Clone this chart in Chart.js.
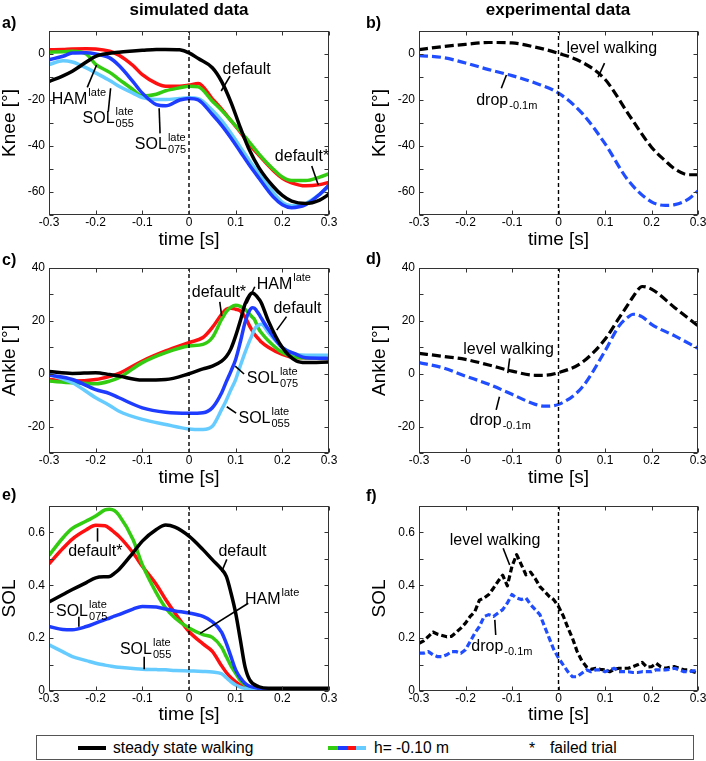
<!DOCTYPE html>
<html><head><meta charset="utf-8">
<script src="https://cdn.jsdelivr.net/npm/chart.js@4.4.0/dist/chart.umd.min.js"></script>
<style>
html,body{margin:0;padding:0;background:#fff;}
#page{position:relative;width:706px;height:761px;overflow:hidden;font-family:'Liberation Sans',Arial,sans-serif;color:#000;background:#fff;}
canvas{position:absolute;}
.t{position:absolute;white-space:nowrap;}
.b{font-weight:bold;}
.lg{font-size:15.6px;line-height:18px;top:739px;}
</style></head><body><div id="page">
<canvas id="ca" width="353" height="250" style="left:0;top:0"></canvas>
<canvas id="cb" width="353" height="250" style="left:353px;top:0"></canvas>
<canvas id="cc" width="353" height="240" style="left:0;top:250px"></canvas>
<canvas id="cd" width="353" height="240" style="left:353px;top:250px"></canvas>
<canvas id="ce" width="353" height="235" style="left:0;top:490px"></canvas>
<canvas id="cf" width="353" height="235" style="left:353px;top:490px"></canvas>

<div class="t b" style="left:89px;width:200px;text-align:center;top:1px;font-size:17px;line-height:17px">simulated data</div>
<div class="t b" style="left:458px;width:200px;text-align:center;top:1px;font-size:17px;line-height:17px">experimental data</div>
<div class="t b" style="left:2px;top:15px;font-size:16px;line-height:16px">a)</div>
<div class="t b" style="left:366px;top:15px;font-size:16px;line-height:16px">b)</div>
<div class="t b" style="left:2px;top:252px;font-size:16px;line-height:16px">c)</div>
<div class="t b" style="left:366px;top:251px;font-size:16px;line-height:16px">d)</div>
<div class="t b" style="left:2px;top:487px;font-size:16px;line-height:16px">e)</div>
<div class="t b" style="left:366px;top:488px;font-size:16px;line-height:16px">f)</div>

<div style="position:absolute;left:36px;top:735px;width:656px;height:23px;border:1px solid #555;"></div>
<div style="position:absolute;left:78px;top:746px;width:28px;height:4px;background:#000"></div>
<div class="t lg" style="left:113px">steady state walking</div>
<div style="position:absolute;left:328px;top:746px;width:10px;height:4px;background:#33cc11"></div>
<div style="position:absolute;left:338px;top:746px;width:10px;height:4px;background:#1e3cff"></div>
<div style="position:absolute;left:348px;top:746px;width:8px;height:4px;background:#ff1010"></div>
<div style="position:absolute;left:356px;top:746px;width:10px;height:4px;background:#66ccff"></div>
<div class="t lg" style="left:374px">h= -0.10 m</div>
<div class="t lg" style="left:529px;top:740px">*</div>
<div class="t lg" style="left:550px">failed trial</div>
</div>
<script>
// ---------- ticks ----------
const xTickVals = [-0.3,-0.2,-0.1,0,0.1,0.2,0.3];
const xTickLabels = ['-0.3','-0.2','-0.1','0','0.1','0.2','0.3'];
const xTickLabelsD = ['-0.3','-0','-0.1','0','0.1','0.2','0.3'];
const kneeTicks = [-70,-60,-50,-40,-30,-20,-10,0,10];
const kneeTickLabels = ['','-60','','-40','','-20','','0',''];
const ankleTicks = [-30,-20,-10,0,10,20,30,40];
const ankleTickLabels = ['','-20','','0','','20','','40'];
const solTicks = [0,0.1,0.2,0.3,0.4,0.5,0.6,0.7];
const solTickLabels = ['0','','0.2','','0.4','','0.6',''];

// ---------- a) simulated knee ----------
const tA = [-0.3,-0.27,-0.25,-0.22,-0.2,-0.17,-0.15,-0.12,-0.1,-0.07,-0.05,-0.02,0,0.02,0.05,0.07,0.09,0.11,0.13,0.15,0.18,0.2,0.22,0.25,0.28,0.3];
const kneeSimBlack = [-12,-9.5,-7.5,-3.5,-1,0.3,0.8,1.3,1.6,2,2,1.8,0.5,-2,-6,-12,-21,-32,-42,-49.5,-57.5,-61.5,-64,-65,-63.5,-61];
const kneeSimRed   = [1.8,2,2.2,2.3,2.2,1.2,-0.5,-5,-9,-12.8,-14,-14,-13.5,-12.8,-19.5,-24,-29,-34,-39.5,-44,-50.5,-54,-56,-57.3,-56.8,-55.8];
const kneeSimGreen = [0.8,1,1.2,0,-4.5,-8,-11,-15.5,-18.3,-17.5,-16,-14.7,-14,-14.3,-20.5,-24.5,-29,-33.5,-38.5,-43.5,-50,-53.5,-55,-55,-53.5,-52];
const kneeSimBlue  = [-2.5,-1,0.4,0.5,0,-1.7,-5,-12,-17,-22,-22.5,-20,-19.3,-20,-26.3,-31,-36.5,-42.5,-48.5,-54,-62,-65.5,-66.8,-65.5,-61,-57];
const kneeSimCyan  = [-4.6,-2.9,-3.5,-6,-8.2,-11.5,-14,-17,-19,-19.8,-19.8,-19.3,-19,-19.4,-24.5,-29,-34.5,-40.5,-46.5,-52,-60,-64.5,-66,-65,-61,-57.4];

// ---------- b) experimental knee ----------
const tB = [-0.3,-0.25,-0.2,-0.15,-0.1,-0.05,0,0.05,0.1,0.15,0.2,0.23,0.25,0.28,0.3];
const kneeExpLevel = [1.9,3.2,4.2,5,4.8,3,0.3,-3.5,-11,-26,-40.5,-46.5,-50,-52.5,-52.5];
const kneeExpDrop  = [-0.7,-1.5,-3.9,-6.8,-9.4,-12.6,-17,-25.6,-39,-55,-64.3,-65.8,-65.5,-63,-59.5];

// ---------- c) simulated ankle ----------
const tC = [-0.3,-0.25,-0.2,-0.17,-0.15,-0.1,-0.05,0,0.03,0.05,0.07,0.08,0.09,0.1,0.11,0.12,0.13,0.135,0.14,0.15,0.155,0.17,0.2,0.23,0.25,0.3];
const ankleSimBlack = [0.8,0.1,0.4,-0.3,-0.9,-2.4,-2.2,0,1.8,2.9,4.8,6.5,9.5,14.3,20,26.3,29.8,30.5,30.2,28.2,26.8,20,9.9,4.8,4.2,4.4];
const ankleSimRed   = [-2.2,-2.8,-2.2,-1,0.1,4.8,8.6,11.8,13.7,17.5,22.5,24.4,24.8,24.4,23.8,21.5,18,16.5,15,13,12,10,7.3,6,6,6];
const ankleSimGreen = [-2.8,-3.4,-3.8,-2.8,-1.5,4.2,8,10.5,11.1,13.7,20.6,23.5,25.2,25.9,25.5,24.4,22.5,21.5,20.6,16.8,15.5,12.5,8,6.2,6,6];
const ankleSimBlue  = [-0.5,-2.2,-6,-7.5,-9.1,-12.9,-14.6,-15,-14.8,-12.9,-7.2,-3,1,5.4,12,19.4,24,25,24.8,22.5,21,16.8,9.9,7.3,6,5.8];
const ankleSimCyan  = [-0.3,-3.4,-9.1,-12,-14.2,-17.3,-19.2,-20.9,-21.1,-19.9,-13.5,-10,-6,-2.2,3,8,12.5,14.5,16.8,18.5,18.7,15.6,9.9,7.3,7,7];

// ---------- d) experimental ankle ----------
const tD = [-0.3,-0.25,-0.2,-0.15,-0.1,-0.05,-0.03,0,0.05,0.1,0.13,0.15,0.16,0.18,0.2,0.25,0.3];
const ankleExpLevel = [7.7,6.6,5.4,3.3,1,-0.6,-0.6,0.4,4.2,13,21,26.3,29,33,32,25,18.1];
const ankleExpDrop  = [4.2,2.3,-0.9,-4,-7.8,-11.6,-12.3,-11.6,-5.3,8.6,18,21.5,22.5,21.5,18.7,14.3,9.6];

// ---------- e) simulated SOL ----------
const tE = [-0.3,-0.27,-0.25,-0.22,-0.2,-0.18,-0.17,-0.16,-0.15,-0.12,-0.1,-0.07,-0.05,-0.03,0,0.03,0.05,0.07,0.08,0.09,0.1,0.11,0.12,0.13,0.15,0.17,0.2,0.25,0.3];
const solSimBlack = [0.337,0.365,0.384,0.41,0.428,0.432,0.433,0.445,0.46,0.523,0.567,0.611,0.628,0.62,0.586,0.535,0.497,0.46,0.434,0.371,0.295,0.194,0.092,0.042,0.016,0.01,0.01,0.01,0.01];
const solSimRed   = [0.481,0.54,0.575,0.61,0.627,0.625,0.615,0.6,0.585,0.523,0.472,0.403,0.346,0.295,0.225,0.178,0.15,0.095,0.07,0.05,0.035,0.022,0.014,0.009,0.004,0.003,0.003,0.003,0.003];
const solSimGreen = [0.513,0.58,0.615,0.643,0.662,0.685,0.688,0.683,0.665,0.573,0.478,0.371,0.314,0.276,0.238,0.213,0.203,0.165,0.13,0.095,0.067,0.04,0.023,0.013,0.004,0.003,0.003,0.003,0.003];
const solSimBlue  = [0.244,0.233,0.232,0.244,0.257,0.27,0.276,0.283,0.289,0.31,0.32,0.318,0.31,0.303,0.295,0.282,0.262,0.222,0.18,0.13,0.08,0.05,0.029,0.018,0.01,0.006,0.005,0.005,0.005];
const solSimCyan  = [0.175,0.148,0.13,0.115,0.105,0.098,0.095,0.092,0.09,0.085,0.082,0.081,0.08,0.078,0.076,0.074,0.072,0.065,0.05,0.035,0.023,0.015,0.01,0.007,0.005,0.005,0.005,0.005,0.005];

// ---------- f) experimental SOL ----------
const tF = [-0.3,-0.29,-0.28,-0.27,-0.26,-0.25,-0.24,-0.23,-0.22,-0.21,-0.2,-0.19,-0.18,-0.17,-0.16,-0.15,-0.14,-0.13,-0.12,-0.11,-0.1,-0.09,-0.08,-0.07,-0.06,-0.05,-0.04,-0.03,-0.02,-0.01,0,0.01,0.02,0.03,0.04,0.05,0.06,0.07,0.08,0.09,0.1,0.11,0.12,0.13,0.14,0.15,0.16,0.17,0.18,0.19,0.2,0.21,0.22,0.23,0.24,0.25,0.26,0.27,0.28,0.29,0.3];
const solExpLevel = [0.18,0.19,0.206,0.223,0.215,0.21,0.205,0.207,0.222,0.238,0.257,0.282,0.3,0.344,0.352,0.365,0.389,0.415,0.438,0.398,0.472,0.516,0.478,0.44,0.45,0.425,0.395,0.377,0.358,0.345,0.32,0.285,0.24,0.2,0.15,0.115,0.092,0.082,0.086,0.082,0.08,0.073,0.082,0.086,0.086,0.086,0.092,0.099,0.108,0.09,0.092,0.105,0.092,0.086,0.09,0.092,0.086,0.08,0.08,0.073,0.067];
const solExpDrop  = [0.143,0.143,0.149,0.137,0.13,0.13,0.137,0.149,0.149,0.143,0.156,0.187,0.219,0.244,0.282,0.289,0.282,0.295,0.308,0.333,0.365,0.352,0.346,0.352,0.327,0.308,0.289,0.244,0.2,0.156,0.125,0.099,0.073,0.054,0.054,0.067,0.08,0.073,0.08,0.08,0.073,0.08,0.086,0.073,0.073,0.073,0.07,0.07,0.073,0.073,0.073,0.08,0.08,0.08,0.082,0.086,0.08,0.073,0.073,0.076,0.076];

// ---------- styles ----------
const C_BLACK = '#000000', C_RED = '#ff1010', C_GREEN = '#33cc11', C_BLUE = '#1e3cff', C_CYAN = '#66ccff', C_DBLUE = '#1f4dff';
const FONT = "'Liberation Sans', Arial, sans-serif";
Chart.defaults.font.family = FONT;
Chart.defaults.color = '#000';

function framePlugin(notes) {
  return {
    id: 'frame',
    afterDatasetsDraw(chart) {
      const {ctx, chartArea: a, scales: {x, y}} = chart;
      ctx.save();
      ctx.strokeStyle = '#333'; ctx.lineWidth = 1; ctx.setLineDash([]);
      const L = Math.round(a.left) + 0.5, R = Math.round(a.right) - 0.5, T = Math.round(a.top) + 0.5, B = Math.round(a.bottom) - 0.5;
      ctx.strokeRect(L, T, R - L, B - T);
      ctx.beginPath();
      x.ticks.forEach(t => { const px = Math.round(x.getPixelForValue(t.value)) + 0.5; ctx.moveTo(px, B); ctx.lineTo(px, B - 4); ctx.moveTo(px, T); ctx.lineTo(px, T + 4); });
      y.ticks.forEach(t => { const py = Math.round(y.getPixelForValue(t.value)) + 0.5; ctx.moveTo(L, py); ctx.lineTo(L + 4, py); ctx.moveTo(R, py); ctx.lineTo(R - 4, py); });
      ctx.stroke();
      notes.forEach(n => {
        ctx.strokeStyle = '#000'; ctx.lineWidth = 1.6;
        ctx.beginPath();
        ctx.moveTo(x.getPixelForValue(n.line[0]), y.getPixelForValue(n.line[1]));
        ctx.lineTo(x.getPixelForValue(n.line[2]), y.getPixelForValue(n.line[3]));
        ctx.stroke();
        const px = x.getPixelForValue(n.t), py = y.getPixelForValue(n.v) + 6;
        ctx.fillStyle = '#000'; ctx.textAlign = 'left'; ctx.textBaseline = 'alphabetic';
        ctx.font = '16px ' + FONT;
        ctx.fillText(n.text, px, py);
        const w = ctx.measureText(n.text).width;
        ctx.font = '11px ' + FONT;
        if (n.sup) ctx.fillText(n.sup, px + w + 1, py - 8);
        if (n.sub) ctx.fillText(n.sub, px + w + 1, py + 4);
      });
      ctx.restore();
    }
  };
}

function makePanel(id, p) {
  const ds = [{
    data: [{x: 0, y: p.yMin}, {x: 0, y: p.yMax}],
    borderColor: '#000', borderWidth: 1.4, borderDash: [4, 3], pointRadius: 0, tension: 0
  }];
  p.series.forEach(s => ds.push({
    data: p.t.map((t, i) => ({x: t, y: s.v[i]})),
    borderColor: s.c, borderWidth: s.w, borderDash: s.dash || [], pointRadius: 0,
    cubicInterpolationMode: s.mono ? 'monotone' : 'default', tension: 0, borderCapStyle: 'butt', borderJoinStyle: 'round'
  }));
  new Chart(document.getElementById(id), {
    type: 'line',
    data: {datasets: ds},
    plugins: [framePlugin(p.notes)],
    options: {
      responsive: false, animation: false, devicePixelRatio: 1, events: [],
      layout: {padding: {left: p.padL, right: p.padR, top: p.padT, bottom: 0}},
      plugins: {legend: {display: false}, tooltip: {enabled: false}},
      scales: {
        x: {
          type: 'linear', min: -0.3, max: 0.3,
          grid: {display: false, drawTicks: false}, border: {display: false},
          ticks: {color: '#000', font: {size: 12}, padding: 0, autoSkip: false, maxRotation: 0, callback: (v, i) => p.xLabels[i]},
          afterBuildTicks: s => { s.ticks = xTickVals.map(v => ({value: v})); },
          afterFit: s => { s.height = p.xH; s.paddingLeft = 0; s.paddingRight = 0; },
          title: {display: true, text: 'time [s]', color: '#000', font: {size: 19, lineHeight: 1}, padding: {top: 0, bottom: p.xTitlePad}}
        },
        y: {
          type: 'linear', min: p.yMin, max: p.yMax,
          grid: {display: false, drawTicks: false}, border: {display: false},
          ticks: {color: '#000', font: {size: 12}, padding: 4, autoSkip: false, callback: (v, i) => p.yLabels[i]},
          afterBuildTicks: s => { s.ticks = p.yTicks.map(v => ({value: v})); },
          afterFit: s => { s.width = 49; s.paddingTop = 0; s.paddingBottom = 0; },
          title: {display: true, text: p.yTitle, color: '#000', font: {size: 19, lineHeight: 1}, padding: {top: 0, bottom: 0}}
        }
      }
    }
  });
}

const simW = 3.5, expW = 3.2;
// draw order: first dataset on top
makePanel('ca', {
  t: tA, yMin: -70, yMax: 10, yTicks: kneeTicks, yLabels: kneeTickLabels, xLabels: xTickLabels, yTitle: 'Knee [°]',
  padL: 0, padR: 24, padT: 31, xH: 35, xTitlePad: 0.5,
  series: [
    {v: kneeSimBlack, c: C_BLACK, w: simW, mono: true},
    {v: kneeSimBlue, c: C_BLUE, w: simW, mono: true},
    {v: kneeSimCyan, c: C_CYAN, w: simW, mono: true},
    {v: kneeSimGreen, c: C_GREEN, w: simW, mono: true},
    {v: kneeSimRed, c: C_RED, w: simW, mono: true}
  ],
  notes: [
    {text: 'default', t: 0.072, v: -6.1, line: [0.088, -9.6, 0.069, -16.1]},
    {text: 'HAM', sup: 'late', t: -0.294, v: -19.3, line: [-0.218, -14.5, -0.198, -4.8]},
    {text: 'SOL', sup: 'late', sub: '055', t: -0.228, v: -27.3, line: [-0.173, -25.1, -0.168, -14.9]},
    {text: 'SOL', sup: 'late', sub: '075', t: -0.116, v: -38.8, line: [-0.062, -34.5, -0.064, -23.6]},
    {text: 'default*', t: 0.184, v: -43.9, line: [0.263, -48.7, 0.277, -57]}
  ]
});
makePanel('cb', {
  t: tB, yMin: -70, yMax: 10, yTicks: kneeTicks, yLabels: kneeTickLabels, xLabels: xTickLabels, yTitle: 'Knee [°]',
  padL: 17, padR: 8, padT: 31, xH: 35, xTitlePad: 0.5,
  series: [
    {v: kneeExpLevel, c: C_BLACK, w: expW, dash: [9, 4], mono: true},
    {v: kneeExpDrop, c: C_DBLUE, w: expW, dash: [9, 4], mono: true}
  ],
  notes: [
    {text: 'level walking', t: 0.017, v: 3.2, line: [0.099, -4.0, 0.085, -10.1]},
    {text: 'drop', sub: '-0.1m', t: -0.177, v: -19.7, line: [-0.123, -14.9, -0.112, -9.1]}
  ]
});
makePanel('cc', {
  t: tC, yMin: -30, yMax: 40, yTicks: ankleTicks, yLabels: ankleTickLabels, xLabels: xTickLabels, yTitle: 'Ankle [°]',
  padL: 0, padR: 24, padT: 18, xH: 37, xTitlePad: 2.5,
  series: [
    {v: ankleSimBlack, c: C_BLACK, w: simW, mono: true},
    {v: ankleSimBlue, c: C_BLUE, w: simW, mono: true},
    {v: ankleSimCyan, c: C_CYAN, w: simW, mono: true},
    {v: ankleSimGreen, c: C_GREEN, w: simW, mono: true},
    {v: ankleSimRed, c: C_RED, w: simW, mono: true}
  ],
  notes: [
    {text: 'default*', t: 0.006, v: 31.3, line: [0.066, 27.2, 0.070, 21.8]},
    {text: 'HAM', sup: 'late', t: 0.145, v: 34.2, line: [0.141, 32.9, 0.124, 26.6]},
    {text: 'default', t: 0.181, v: 25.4, line: [0.209, 21.6, 0.188, 16.5]},
    {text: 'SOL', sup: 'late', sub: '075', t: 0.124, v: -1.1, line: [0.118, -0.1, 0.099, 2.9]},
    {text: 'SOL', sup: 'late', sub: '055', t: 0.106, v: -16.3, line: [0.101, -14.9, 0.081, -12.5]}
  ]
});
makePanel('cd', {
  t: tD, yMin: -30, yMax: 40, yTicks: ankleTicks, yLabels: ankleTickLabels, xLabels: xTickLabelsD, yTitle: 'Ankle [°]',
  padL: 17, padR: 8, padT: 18, xH: 37, xTitlePad: 2.5,
  series: [
    {v: ankleExpLevel, c: C_BLACK, w: expW, dash: [9, 4], mono: true},
    {v: ankleExpDrop, c: C_DBLUE, w: expW, dash: [9, 4], mono: true}
  ],
  notes: [
    {text: 'level walking', t: -0.205, v: 9.6, line: [-0.105, 5.8, -0.109, 0.2]},
    {text: 'drop', sub: '-0.1m', t: -0.191, v: -17.2, line: [-0.134, -13.7, -0.127, -8.7]}
  ]
});
makePanel('ce', {
  t: tE, yMin: 0, yMax: 0.7, yTicks: solTicks, yLabels: solTickLabels, xLabels: xTickLabels, yTitle: 'SOL',
  padL: 0, padR: 24, padT: 16, xH: 34, xTitlePad: 0.5,
  series: [
    {v: solSimBlack, c: C_BLACK, w: simW, mono: true},
    {v: solSimBlue, c: C_BLUE, w: simW, mono: true},
    {v: solSimCyan, c: C_CYAN, w: simW, mono: true},
    {v: solSimGreen, c: C_GREEN, w: simW, mono: true},
    {v: solSimRed, c: C_RED, w: simW, mono: true}
  ],
  notes: [
    {text: 'default*', t: -0.259, v: 0.534, line: [-0.196, 0.565, -0.196, 0.616]},
    {text: 'default', t: 0.063, v: 0.534, line: [0.081, 0.498, 0.070, 0.451]},
    {text: 'HAM', sup: 'late', t: 0.12, v: 0.351, line: [0.127, 0.332, 0.024, 0.218]},
    {text: 'SOL', sup: 'late', sub: '075', t: -0.285, v: 0.307, line: [-0.236, 0.281, -0.236, 0.243]},
    {text: 'SOL', sup: 'late', sub: '055', t: -0.148, v: 0.162, line: [-0.096, 0.130, -0.096, 0.082]}
  ]
});
makePanel('cf', {
  t: tF, yMin: 0, yMax: 0.7, yTicks: solTicks, yLabels: solTickLabels, xLabels: xTickLabels, yTitle: 'SOL',
  padL: 17, padR: 8, padT: 16, xH: 34, xTitlePad: 0.5,
  series: [
    {v: solExpDrop, c: C_DBLUE, w: expW, dash: [6, 3]},
    {v: solExpLevel, c: C_BLACK, w: expW, dash: [6, 3]}
  ],
  notes: [
    {text: 'level walking', t: -0.234, v: 0.574, line: [-0.119, 0.54, -0.105, 0.477]},
    {text: 'drop', sub: '-0.1m', t: -0.1875, v: 0.174, line: [-0.135, 0.212, -0.137, 0.269]}
  ]
});
</script>
</body></html>
